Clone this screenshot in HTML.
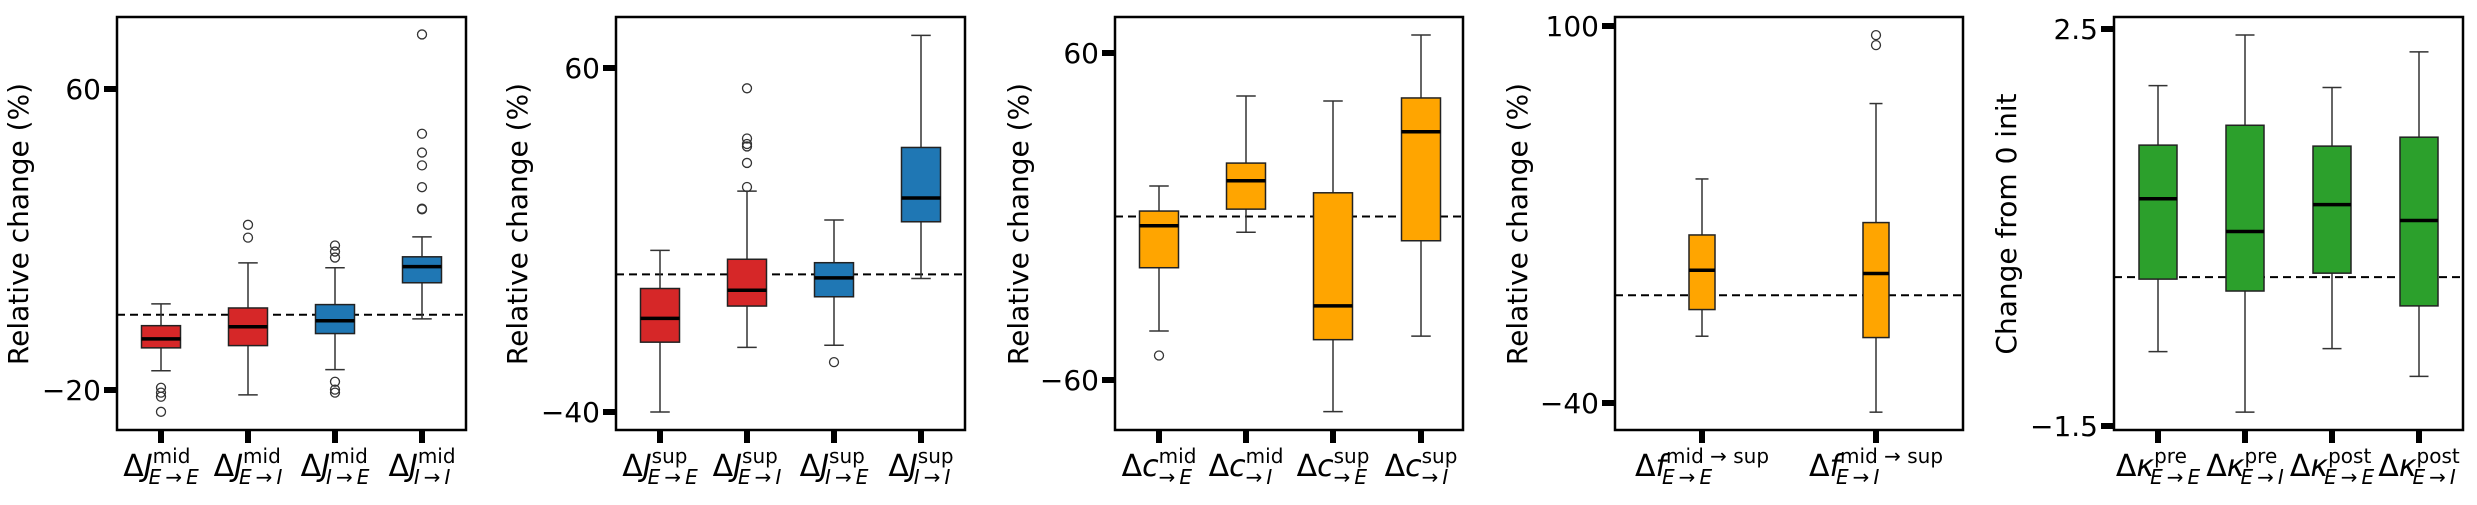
<!DOCTYPE html>
<html><head><meta charset="utf-8">
<style>
html,body{margin:0;padding:0;background:#fff;}
svg{display:block;font-family:"DejaVu Sans","Liberation Sans",sans-serif;}
</style></head>
<body>
<svg id="fig" width="2477" height="505" viewBox="0 0 2477 505" xmlns="http://www.w3.org/2000/svg"></svg>
<script>
// ---------- Panel 1 data: ΔJ mid ----------
const p1Categories = ["E→E","E→I","I→E","I→I"];
const p1Q1 = [-8.8,-8.2,-5.0,8.5];
const p1Median = [-6.4,-3.2,-1.6,12.8];
const p1Q3 = [-2.9,1.8,2.7,15.4];
const p1WhiskerLow = [-14.9,-21.3,-14.6,-1.1];
const p1WhiskerHigh = [2.9,13.8,12.5,20.7];
const p1Outliers = [[-19.4,-20.7,-21.8,-25.8],[23.9,20.5],[18.4,16.8,15.2,-17.8,-19.9,-20.7],[74.5,48.1,43.1,39.7,33.9,28.0,28.2]];
const p1Ticks = [60,-20];

// ---------- Panel 2 data: ΔJ sup ----------
const p2Categories = ["E→E","E→I","I→E","I→I"];
const p2Q1 = [-19.7,-9.2,-6.5,15.3];
const p2Median = [-12.8,-4.6,-1.0,22.2];
const p2Q3 = [-4.1,4.4,3.4,36.9];
const p2WhiskerLow = [-40,-21.2,-20.6,-1.2];
const p2WhiskerHigh = [7.0,24.2,15.8,69.5];
const p2Outliers = [[],[54.1,39.5,37.9,37.2,32.4,25.4],[-25.5],[]];
const p2Ticks = [60,-40];

// ---------- Panel 3 data: Δc ----------
const p3Categories = ["mid→E","mid→I","sup→E","sup→I"];
const p3Q1 = [-18.8,2.7,-45.2,-8.9];
const p3Median = [-3.4,13.1,-32.8,31.1];
const p3Q3 = [2.0,19.6,8.7,43.5];
const p3WhiskerLow = [-42,-5.8,-71.6,-43.9];
const p3WhiskerHigh = [11.2,44.2,42.4,66.6];
const p3Outliers = [[-51],[],[],[]];
const p3Ticks = [60,-60];

// ---------- Panel 4 data: Δf ----------
const p4Categories = ["E→E","E→I"];
const p4Q1 = [-5.3,-15.7];
const p4Median = [9.3,8.1];
const p4Q3 = [22.4,27.0];
const p4WhiskerLow = [-15.2,-43.4];
const p4WhiskerHigh = [43.2,71.2];
const p4Outliers = [[],[96.6,92.9]];
const p4Ticks = [100,-40];

// ---------- Panel 5 data: Δκ ----------
const p5Categories = ["pre E→E","pre E→I","post E→E","post E→I"];
const p5Q1 = [-0.02,-0.14,0.04,-0.29];
const p5Median = [0.79,0.46,0.73,0.57];
const p5Q3 = [1.33,1.53,1.32,1.41];
const p5WhiskerLow = [-0.75,-1.36,-0.72,-1.0];
const p5WhiskerHigh = [1.93,2.44,1.91,2.27];
const p5Outliers = [[],[],[],[]];
const p5Ticks = [2.5,-1.5];

const NS="http://www.w3.org/2000/svg";
const svg=document.getElementById('fig');
function mk(tag,attrs,parent){const e=document.createElementNS(NS,tag);for(const k in attrs)e.setAttribute(k,attrs[k]);(parent||svg).appendChild(e);return e;}

const RED="#d62728",BLUE="#1f77b4",ORANGE="#ffa500",GREEN="#2ca02c";
const TOP=17,BOT=430;

const panels=[
 {id:"p1",x0:117,x1:466,cal:[60,89,-20,390],cx:[161,248,335,422],bw:39,colors:[RED,RED,BLUE,BLUE],
  cats:p1Categories,q1:p1Q1,med:p1Median,q3:p1Q3,lo:p1WhiskerLow,hi:p1WhiskerHigh,out:p1Outliers,ticks:p1Ticks,
  ylabel:"Relative change (%)",ylx:18,
  lab:[["J","mid","E→E"],["J","mid","E→I"],["J","mid","I→E"],["J","mid","I→I"]]},
 {id:"p2",x0:616,x1:965,cal:[60,68,-40,412],cx:[660,747,834,921],bw:39,colors:[RED,RED,BLUE,BLUE],
  cats:p2Categories,q1:p2Q1,med:p2Median,q3:p2Q3,lo:p2WhiskerLow,hi:p2WhiskerHigh,out:p2Outliers,ticks:p2Ticks,
  ylabel:"Relative change (%)",ylx:517,
  lab:[["J","sup","E→E"],["J","sup","E→I"],["J","sup","I→E"],["J","sup","I→I"]]},
 {id:"p3",x0:1115,x1:1463,cal:[60,53,-60,380],cx:[1159,1246,1333,1421],bw:39,colors:[ORANGE,ORANGE,ORANGE,ORANGE],
  cats:p3Categories,q1:p3Q1,med:p3Median,q3:p3Q3,lo:p3WhiskerLow,hi:p3WhiskerHigh,out:p3Outliers,ticks:p3Ticks,
  ylabel:"Relative change (%)",ylx:1018,
  lab:[["c","mid","→E"],["c","mid","→I"],["c","sup","→E"],["c","sup","→I"]]},
 {id:"p4",x0:1615,x1:1963,cal:[100,26,-40,403],cx:[1702,1876],bw:26,colors:[ORANGE,ORANGE],
  cats:p4Categories,q1:p4Q1,med:p4Median,q3:p4Q3,lo:p4WhiskerLow,hi:p4WhiskerHigh,out:p4Outliers,ticks:p4Ticks,
  ylabel:"Relative change (%)",ylx:1517,
  lab:[["f","mid → sup","E→E"],["f","mid → sup","E→I"]]},
 {id:"p5",x0:2114,x1:2463,cal:[2.5,29,-1.5,426],cx:[2158,2245,2332,2419],bw:38,colors:[GREEN,GREEN,GREEN,GREEN],
  cats:p5Categories,q1:p5Q1,med:p5Median,q3:p5Q3,lo:p5WhiskerLow,hi:p5WhiskerHigh,out:p5Outliers,ticks:p5Ticks,
  ylabel:"Change from 0 init",ylx:2006,
  lab:[["κ","pre","E→E"],["κ","pre","E→I"],["κ","post","E→E"],["κ","post","E→I"]]}
];

function fmt(v){return (v<0?"−":"")+String(Math.abs(v));}

function addScript(parent,str,x,y,size){
  const t=mk('text',{x:x,y:y,'font-size':size},parent);
  for(const ch of str){const s=mk('tspan',{},t);
    if(ch==="→"){s.textContent="\u2009→\u2009";}else{s.textContent=ch;s.setAttribute('font-style','italic');}}
  return t;
}

panels.forEach(p=>{
  const g=mk('g',{});
  
  
  const [v1,py1,v2,py2]=p.cal;
  const y=v=>py1+(v-v1)*(py2-py1)/(v2-v1);

  const zl=mk('line',{x1:p.x0,x2:p.x1,y1:y(0),y2:y(0),stroke:'#000','stroke-width':2,'stroke-dasharray':'8,5'},g);
  
  

  p.cats.forEach((c,i)=>{
    const cx=p.cx[i],bw=p.bw;
    const bg=mk('g',{},g);
    
    
    const cap=bw/2;
    mk('line',{x1:cx,x2:cx,y1:y(p.hi[i]),y2:y(p.q3[i]),stroke:'#333','stroke-width':1.5},bg);
    mk('line',{x1:cx,x2:cx,y1:y(p.q1[i]),y2:y(p.lo[i]),stroke:'#333','stroke-width':1.5},bg);
    mk('line',{x1:cx-cap/2,x2:cx+cap/2,y1:y(p.hi[i]),y2:y(p.hi[i]),stroke:'#333','stroke-width':1.5},bg);
    mk('line',{x1:cx-cap/2,x2:cx+cap/2,y1:y(p.lo[i]),y2:y(p.lo[i]),stroke:'#333','stroke-width':1.5},bg);
    mk('rect',{x:cx-bw/2,y:y(p.q3[i]),width:bw,height:y(p.q1[i])-y(p.q3[i]),fill:p.colors[i],stroke:'#222','stroke-width':1.5},bg);
    mk('line',{x1:cx-bw/2,x2:cx+bw/2,y1:y(p.med[i]),y2:y(p.med[i]),stroke:'#000','stroke-width':3.5},bg);
    p.out[i].forEach(o=>{
      const oc=mk('circle',{cx:cx,cy:y(o),r:4.5,fill:'none',stroke:'#333','stroke-width':1.3},bg);
      
      
    });
    mk('line',{x1:cx,x2:cx,y1:BOT,y2:BOT+13,stroke:'#000','stroke-width':6},g);
    const lg=mk('g',{},g);
    
    
    const [sym,sup,sub]=p.lab[i];
    const mt=mk('text',{x:0,y:476,'font-size':30},lg);
    const d=mk('tspan',{},mt);d.textContent="Δ";
    const s=mk('tspan',{'font-style':'italic'},mt);s.textContent=sym;
    const ml=mt.getComputedTextLength();
    const spt=mk('text',{x:ml,y:463,'font-size':20},lg);spt.textContent=sup;
    const sbt=addScript(lg,sub,ml-4,484,20);
    const w=ml+Math.max(spt.getComputedTextLength(),sbt.getComputedTextLength()-4);
    lg.setAttribute('transform','translate('+(cx-w/2)+',0)');
  });

  p.ticks.forEach(t=>{
    mk('line',{x1:p.x0-13,x2:p.x0,y1:y(t),y2:y(t),stroke:'#000','stroke-width':6},g);
    const tl=mk('text',{x:p.x0-16,y:y(t)+10,'font-size':28,'text-anchor':'end'},g);
    tl.textContent=fmt(t);
    
    
  });

  const fr=mk('rect',{x:p.x0,y:TOP,width:p.x1-p.x0,height:BOT-TOP,fill:'none',stroke:'#000','stroke-width':2.5},g);
  
  

  const yl=mk('text',{x:0,y:0,'font-size':28,'text-anchor':'middle',transform:'translate('+(p.ylx+10)+',224) rotate(-90)'},g);
  yl.textContent=p.ylabel;
  
  
});
</script>
</body></html>
